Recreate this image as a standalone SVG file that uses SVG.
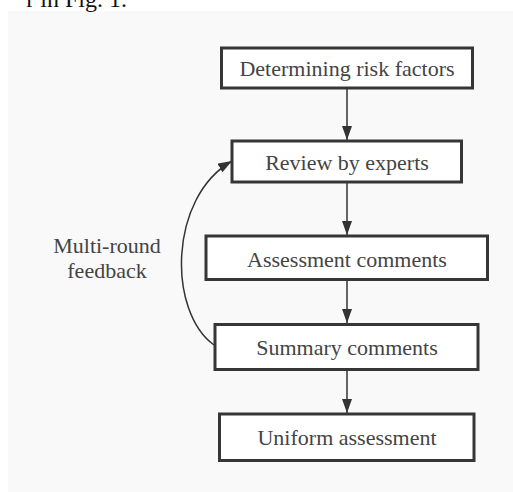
<svg xmlns="http://www.w3.org/2000/svg" width="513" height="492" viewBox="0 0 513 492">
<style>
.box{fill:#ffffff;stroke:#363636;stroke-width:3}
.lbl{font-family:'Liberation Serif', serif;font-size:22px;fill:#444444;text-anchor:middle}
.edge{fill:none;stroke:#333333;stroke-width:1.5}
</style>
<defs>
<marker id="ah" markerUnits="userSpaceOnUse" markerWidth="14" markerHeight="10" refX="14" refY="5" orient="auto">
<path d="M0,0 L14,5 L0,10 z" fill="#333333"/>
</marker>
</defs>
<rect x="0" y="0" width="513" height="492" fill="#ffffff"/>
<rect x="8" y="11" width="505" height="481" fill="#f9f9f9"/>
<text x="127" y="7" font-family="Liberation Serif, serif" font-size="24" fill="#111111" text-anchor="end">r in Fig. 1.</text>
<g id="connectors">
<line class="edge" x1="347" y1="89" x2="347" y2="140" marker-end="url(#ah)"/>
<line class="edge" x1="347" y1="183" x2="347" y2="235" marker-end="url(#ah)"/>
<line class="edge" x1="347" y1="281" x2="347" y2="323" marker-end="url(#ah)"/>
<line class="edge" x1="347" y1="371" x2="347" y2="413" marker-end="url(#ah)"/>
<path class="edge" d="M214,345 C168,312 168,198 232,161" marker-end="url(#ah)"/>
<text class="lbl" font-family="Liberation Serif, serif" x="107" y="253">Multi-round</text>
<text class="lbl" font-family="Liberation Serif, serif" x="107" y="278">feedback</text>
</g>
<g id="n1"><rect class="box" x="221.5" y="48" width="251" height="40"/><text class="lbl" font-family="Liberation Serif, serif" x="347" y="76">Determining risk factors</text></g>
<g id="n2"><rect class="box" x="232" y="141" width="229.5" height="41"/><text class="lbl" font-family="Liberation Serif, serif" x="347" y="170">Review by experts</text></g>
<g id="n3"><rect class="box" x="206" y="236" width="281.5" height="43.5"/><text class="lbl" font-family="Liberation Serif, serif" x="347" y="266.5">Assessment comments</text></g>
<g id="n4"><rect class="box" x="215" y="324.5" width="263" height="45"/><text class="lbl" font-family="Liberation Serif, serif" x="347" y="355">Summary comments</text></g>
<g id="n5"><rect class="box" x="219.5" y="414" width="254.5" height="46.5"/><text class="lbl" font-family="Liberation Serif, serif" x="347" y="445">Uniform assessment</text></g>
</svg>
